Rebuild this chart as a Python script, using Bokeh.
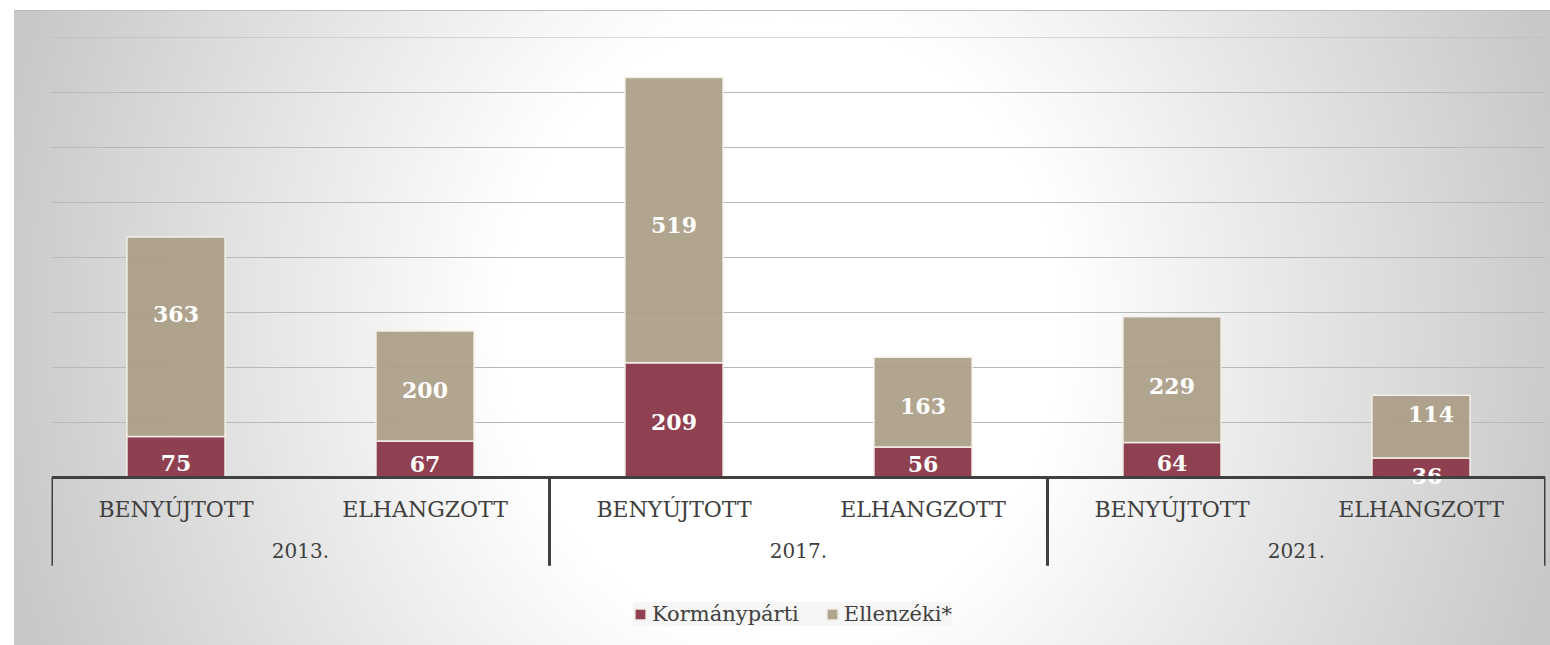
import numpy as np
from bokeh.plotting import figure
from bokeh.models import (ColumnDataSource, FactorRange, Range1d, FixedTicker,
                          CategoricalAxis)
from bokeh.core.properties import value
from bokeh.embed import file_html
from bokeh.resources import INLINE

# ---- data ----
years = ["2013.", "2017.", "2021."]
stages = ["BENYÚJTOTT", "ELHANGZOTT"]
series = ["Kormánypárti", "Ellenzéki*"]
kormanyparti = [75, 67, 209, 56, 64, 36]
ellenzeki = [363, 200, 519, 163, 229, 114]
grid_values = [100, 200, 300, 400, 500, 600, 700, 800]

# ---- styles ----
RED = "#8b3a4b"
TAN = "#aa9d85"
TXT = "#404040"
FONT = "DejaVu Serif"
# per-label nudges in screen pixels (reference label placement)
k_dy = [6, 5, 2, 2, 3, 8]
e_dy = [-23, 4, 5, 4, 6, -13]
k_dx = [0, 0, 0, 0, 0, 6]
e_dx = [0, 0, 0, 0, 0, 10]

factors = [(y, s) for y in years for s in stages]
src = ColumnDataSource(dict(x=factors, k=kormanyparti, e=ellenzeki))

p = figure(width=1536, height=635,
           x_range=FactorRange(*factors, factor_padding=0, group_padding=0,
                               subgroup_padding=0, range_padding=0),
           y_range=Range1d(-304.95, 800.5),
           output_backend="svg", toolbar_location=None,
           min_border_left=37, min_border_right=5, min_border_top=27,
           min_border_bottom=0)
p.extra_x_ranges = {"yrs": FactorRange(*years, range_padding=0)}
p.margin = (10, 0, 0, 14)
p.background_fill_color = None
p.border_fill_color = None
p.outline_line_color = None
p.styles = {
    "background": "radial-gradient(ellipse 52% 140% at 50% 50%, #ffffff 35%, #c8c8c8 100%)",
    "box-shadow": "inset 0 1px 0 #bdbdbd",
}

# grid
p.yaxis.visible = False
p.xgrid.visible = False
p.ygrid.ticker = FixedTicker(ticks=grid_values)
p.ygrid.grid_line_color = "#b8b8b8"
p.ygrid.grid_line_width = 1

# bars
r = p.vbar_stack(["k", "e"], x="x", width=0.394, source=src,
                 fill_color=[RED, TAN], fill_alpha=[0.97, 0.92],
                 line_color="#f3efe8", line_width=1.5,
                 legend_label=series)

# value labels
k_arr = np.array(kormanyparti, dtype=float)
e_arr = np.array(ellenzeki, dtype=float)
lab = ColumnDataSource(dict(
    x=factors + factors,
    y=list(k_arr / 2) + list(k_arr + e_arr / 2),
    t=[str(v) for v in kormanyparti] + [str(v) for v in ellenzeki],
    dy=k_dy + e_dy,
    dx=k_dx + e_dx,
))
p.text(x="x", y="y", text="t", source=lab, x_offset="dx", y_offset="dy",
       text_align="center", text_baseline="middle",
       text_font=value(FONT), text_font_style="bold",
       text_font_size="22px", text_color="white")

# group separators
bounds = np.cumsum([0] + [len(stages)] * len(years)).astype(float)
p.segment(x0=bounds, y0=np.zeros_like(bounds), x1=bounds,
          y1=np.full_like(bounds, -160.0), line_color=TXT, line_width=3)

# main category axis
xa = p.xaxis[0]
xa.fixed_location = 0
xa.axis_line_width = 3
xa.axis_line_color = TXT
xa.major_tick_line_color = None
xa.minor_tick_line_color = None
xa.major_tick_out = 0
xa.major_label_standoff = 19
xa.major_label_text_font = FONT
xa.major_label_text_font_size = "22px"
xa.major_label_text_color = TXT
xa.group_text_color = None
xa.separator_line_color = None

# year axis
ya = CategoricalAxis(x_range_name="yrs", fixed_location=0,
                     axis_line_color=None, major_tick_line_color=None,
                     minor_tick_line_color=None, major_tick_out=0,
                     major_label_standoff=65,
                     major_label_text_font=FONT,
                     major_label_text_font_size="20px",
                     major_label_text_color=TXT)
p.add_layout(ya, "below")

# legend
lg = p.legend[0]
lg.orientation = "horizontal"
lg.location = (582, 19)
lg.background_fill_color = "#f4f4f4"
lg.background_fill_alpha = 0.85
lg.border_line_color = None
lg.label_text_font = FONT
lg.label_text_font_size = "21px"
lg.label_text_color = TXT
lg.glyph_width = 14
lg.glyph_height = 14
lg.label_standoff = 5
lg.spacing = 26
lg.padding = 8
lg.margin = 0

open("out.html", "w").write(file_html(p, INLINE))
